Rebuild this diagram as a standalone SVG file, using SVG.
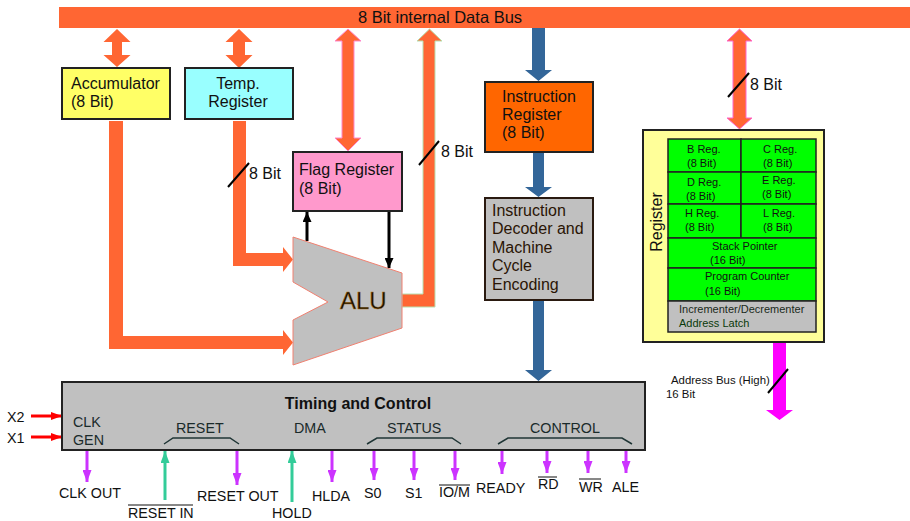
<svg xmlns="http://www.w3.org/2000/svg" width="910" height="521" viewBox="0 0 910 521">
  <defs>
    <style>
      text { font-family: "Liberation Sans", Arial, sans-serif; fill: #111; }
      .t16 { font-size: 16px; }
      .t14 { font-size: 14.3px; }
      .t11 { font-size: 11px; }
      .box { stroke: #222; stroke-width: 2; }
      .bus { fill: #ff6633; }
      .blue { fill: #336699; }
      .sig-out { stroke: #cc33ff; stroke-width: 3; fill: none; marker-end: url(#headPurple); }
      .sig-in { stroke: #33cc99; stroke-width: 3; fill: none; marker-end: url(#headGreen); }
      .clk-in { stroke: #ff0000; stroke-width: 3; fill: none; marker-end: url(#headRed); }
      .flag-link { stroke: #000; stroke-width: 3; fill: none; marker-end: url(#headBlack); }
      .slash { stroke: #000; stroke-width: 2; }
      .brace { stroke: #1f3535; stroke-width: 1.5; fill: none; }
      .reg { fill: #00ff00; stroke: #222; stroke-width: 1.5; }
      .lbl { fill: #1a2a2a; }
      .bar { stroke: #111; stroke-width: 1; }
    </style>
    <marker id="headPurple" markerUnits="userSpaceOnUse" markerWidth="12" markerHeight="9" refX="12" refY="4.5" orient="auto">
      <path d="M0,0 L12,4.5 L0,9 z" fill="#cc33ff"/>
    </marker>
    <marker id="headGreen" markerUnits="userSpaceOnUse" markerWidth="12" markerHeight="9" refX="12" refY="4.5" orient="auto">
      <path d="M0,0 L12,4.5 L0,9 z" fill="#33cc99"/>
    </marker>
    <marker id="headRed" markerUnits="userSpaceOnUse" markerWidth="11" markerHeight="8" refX="11" refY="4" orient="auto">
      <path d="M0,0 L11,4 L0,8 z" fill="#ff0000"/>
    </marker>
    <marker id="headBlack" markerUnits="userSpaceOnUse" markerWidth="10" markerHeight="9" refX="10" refY="4.5" orient="auto">
      <path d="M0,0 L10,4.5 L0,9 z" fill="#000"/>
    </marker>
  </defs>

  <rect width="910" height="521" fill="#ffffff"/>

  <!-- internal data bus -->
  <g id="data-bus">
    <rect class="bus" x="59" y="7" width="851" height="21"/>
    <text x="440" y="23" text-anchor="middle" style="font-size:16.5px">8 Bit internal Data Bus</text>
  </g>

  <!-- wide bus connectors -->
  <g id="connectors">
    <!-- bus <-> accumulator -->
    <polygon class="bus" points="117,29 130.5,42 122,42 122,55 130.5,55 117,67 103.5,55 112,55 112,42 103.5,42"/>
    <!-- bus <-> temp register -->
    <polygon class="bus" points="239,29 252.5,42 245,42 245,55 252.5,55 239,68 225.5,55 233,55 233,42 225.5,42"/>
    <!-- bus <-> flag register -->
    <polygon class="bus" stroke="#ff88cc" stroke-width="1" points="348,29 361,41 354,41 354,138 361,138 348,151 335,138 342,138 342,41 335,41"/>
    <!-- ALU result -> bus -->
    <polygon class="bus" stroke="#b8e0b0" stroke-width="1" points="402,294 423,294 423,41 417,41 429.5,29 442,41 435,41 435,307 402,307"/>
    <!-- bus <-> register array -->
    <polygon class="bus" stroke="#ff66cc" stroke-width="1" points="739.5,29 752,41 746,41 746,118 752,118 739.5,129 727,118 733,118 733,41 727,41"/>
    <!-- accumulator -> ALU -->
    <polygon class="bus" points="109,121 123,121 123,336 283,336 283,330 293,342.5 283,355 283,349 109,349"/>
    <!-- temp register -> ALU -->
    <polygon class="bus" points="233,121 246,121 246,253 283,253 283,247 293,259.5 283,272 283,266 233,266"/>

    <!-- instruction path -->
    <polygon class="blue" points="532,28 545,28 545,70 552,70 538.5,81 525,70 532,70"/>
    <polygon class="blue" points="533,152 544,152 544,187 552,187 538.5,197 525,187 533,187"/>
    <polygon class="blue" points="533,300 544,300 544,370 552,370 538.5,381 525,370 533,370"/>

    <!-- address bus high -->
    <polygon fill="#ff00ff" points="773,342 786,342 786,410 793,410 779.5,420 766,410 773,410"/>

    <!-- flag register <-> ALU -->
    <line class="flag-link" x1="307" y1="241" x2="307" y2="212"/>
    <line class="flag-link" x1="389" y1="211" x2="389" y2="268"/>

    <!-- width marks -->
    <line class="slash" x1="228" y1="187" x2="249" y2="163"/>
    <text class="t16" x="249" y="179">8 Bit</text>
    <line class="slash" x1="419" y1="165" x2="439" y2="141"/>
    <text class="t16" x="441" y="157">8 Bit</text>
    <line class="slash" x1="728" y1="97" x2="749" y2="73"/>
    <text class="t16" x="750" y="90">8 Bit</text>
    <line class="slash" x1="768" y1="393" x2="788" y2="369"/>
    <text x="671" y="384" style="font-size:11.4px">Address Bus (High)</text>
    <text x="666" y="398" style="font-size:11.4px">16 Bit</text>

    <!-- clock inputs -->
    <line class="clk-in" x1="31" y1="416" x2="62" y2="416"/>
    <line class="clk-in" x1="31" y1="437" x2="62" y2="437"/>

    <!-- external signals -->
    <line class="sig-out" x1="87" y1="451" x2="87" y2="482"/>
    <line class="sig-in" x1="165" y1="500" x2="165" y2="451"/>
    <line class="sig-out" x1="237" y1="451" x2="237" y2="485"/>
    <line class="sig-in" x1="292" y1="502" x2="292" y2="451"/>
    <line class="sig-out" x1="332" y1="451" x2="332" y2="482"/>
    <line class="sig-out" x1="374" y1="451" x2="374" y2="480"/>
    <line class="sig-out" x1="414" y1="451" x2="414" y2="480"/>
    <line class="sig-out" x1="455" y1="451" x2="455" y2="480"/>
    <line class="sig-out" x1="502" y1="451" x2="502" y2="474"/>
    <line class="sig-out" x1="547" y1="451" x2="547" y2="473"/>
    <line class="sig-out" x1="588" y1="451" x2="588" y2="473"/>
    <line class="sig-out" x1="626" y1="451" x2="626" y2="473"/>
  </g>

  <g id="accumulator">
    <rect class="box" x="62" y="68" width="108" height="51" fill="#ffff66"/>
    <text class="t16" x="71" y="89">Accumulator</text>
    <text class="t16" x="71" y="107">(8 Bit)</text>
  </g>

  <g id="temp-register">
    <rect class="box" x="185" y="68" width="108" height="51" fill="#99ffff"/>
    <text class="t16" x="238" y="89" text-anchor="middle">Temp.</text>
    <text class="t16" x="238" y="107" text-anchor="middle">Register</text>
  </g>

  <g id="flag-register">
    <rect class="box" x="293" y="152" width="109" height="59" fill="#ff99cc"/>
    <text class="t16" x="299" y="175">Flag Register</text>
    <text class="t16" x="299" y="194">(8 Bit)</text>
  </g>

  <g id="alu">
    <polygon fill="#c0c0c0" stroke="#f08070" stroke-width="1" points="293,237 402,273 402,328 293,365 293,320 328,302 293,282"/>
    <text x="340" y="309" style="font-size:24px;fill:#1a1200" stroke="#b07010" stroke-width="0.4">ALU</text>
  </g>

  <g id="instruction-register">
    <rect class="box" x="485" y="82" width="108" height="70" fill="#ff6600"/>
    <text class="t16" x="502" y="102">Instruction</text>
    <text class="t16" x="502" y="120">Register</text>
    <text class="t16" x="502" y="138">(8 Bit)</text>
  </g>

  <g id="instruction-decoder">
    <rect x="485" y="198" width="108" height="102" fill="#c0c0c0" stroke="#2a1a10" stroke-width="2"/>
    <text class="t16" x="492" y="216" style="fill:#2a1505">Instruction</text>
    <text class="t16" x="492" y="234" style="fill:#2a1505">Decoder and</text>
    <text class="t16" x="492" y="253" style="fill:#2a1505">Machine</text>
    <text class="t16" x="492" y="271" style="fill:#2a1505">Cycle</text>
    <text class="t16" x="492" y="290" style="fill:#2a1505">Encoding</text>
  </g>

  <g id="register-array">
    <rect class="box" x="643" y="130" width="181" height="212" fill="#ffff99"/>
    <text class="t16" transform="translate(662,222) rotate(-90)" text-anchor="middle">Register</text>
    <rect class="reg" x="668" y="139" width="73" height="33"/>
    <rect class="reg" x="741" y="139" width="75" height="33"/>
    <rect class="reg" x="668" y="172" width="73" height="32"/>
    <rect class="reg" x="741" y="172" width="75" height="32"/>
    <rect class="reg" x="668" y="204" width="73" height="34"/>
    <rect class="reg" x="741" y="204" width="75" height="34"/>
    <rect class="reg" x="668" y="238" width="148" height="30"/>
    <rect class="reg" x="668" y="268" width="148" height="33"/>
    <rect x="668" y="301" width="148" height="31" fill="#c0c0c0" stroke="#222" stroke-width="1.5"/>
    <text class="t11" x="687" y="153">B Reg.</text>
    <text class="t11" x="687" y="167">(8 Bit)</text>
    <text class="t11" x="763" y="153">C Reg.</text>
    <text class="t11" x="763" y="167">(8 Bit)</text>
    <text class="t11" x="687" y="186">D Reg.</text>
    <text class="t11" x="686" y="200">(8 Bit)</text>
    <text class="t11" x="762" y="184">E Reg.</text>
    <text class="t11" x="762" y="198">(8 Bit)</text>
    <text class="t11" x="685" y="217">H Reg.</text>
    <text class="t11" x="685" y="231">(8 Bit)</text>
    <text class="t11" x="763" y="217">L Reg.</text>
    <text class="t11" x="763" y="231">(8 Bit)</text>
    <text class="t11" x="712" y="250">Stack Pointer</text>
    <text class="t11" x="710" y="264">(16 Bit)</text>
    <text class="t11" x="705" y="280">Program Counter</text>
    <text class="t11" x="705" y="295">(16 Bit)</text>
    <text class="t11" x="679" y="313" style="fill:#1a2a1a">Incrementer/Decrementer</text>
    <text class="t11" x="679" y="327" style="fill:#0a3a0a">Address Latch</text>
  </g>

  <g id="timing-control">
    <rect class="box" x="62" y="382" width="583" height="68" fill="#c0c0c0"/>
    <text x="358" y="409" text-anchor="middle" style="font-size:16px;font-weight:bold">Timing and Control</text>
    <text class="t14 lbl" x="73" y="427">CLK</text>
    <text class="t14 lbl" x="73" y="445">GEN</text>
    <text class="t14 lbl" x="176" y="433">RESET</text>
    <text class="t14 lbl" x="294" y="433">DMA</text>
    <text class="t14 lbl" x="387" y="433">STATUS</text>
    <text class="t14 lbl" x="530" y="433">CONTROL</text>
    <path class="brace" d="M164,444 L173,438 L230,438 L239,444"/>
    <path class="brace" d="M367,444 L377,438 L452,438 L461,444"/>
    <path class="brace" d="M498,444 L508,438 L622,438 L632,444"/>
  </g>

  <!-- pin labels -->
  <g id="pin-labels">
    <text class="t14" x="7" y="422">X2</text>
    <text class="t14" x="7" y="443">X1</text>
    <text class="t14" x="59" y="498">CLK OUT</text>
    <text class="t14" x="128" y="518">RESET IN</text>
    <line class="bar" x1="128" y1="505" x2="193" y2="505"/>
    <text class="t14" x="197" y="501">RESET OUT</text>
    <text class="t14" x="272" y="518">HOLD</text>
    <text class="t14" x="312" y="501">HLDA</text>
    <text class="t14" x="364" y="498">S0</text>
    <text class="t14" x="405" y="498">S1</text>
    <text class="t14" x="439" y="497">IO/M</text>
    <line class="bar" x1="439" y1="485" x2="470" y2="485"/>
    <text class="t14" x="476" y="493">READY</text>
    <text class="t14" x="538" y="489">RD</text>
    <line class="bar" x1="538" y1="477" x2="557" y2="477"/>
    <text class="t14" x="579" y="492">WR</text>
    <line class="bar" x1="579" y1="479" x2="601" y2="479"/>
    <text class="t14" x="612" y="492">ALE</text>
  </g>
</svg>
